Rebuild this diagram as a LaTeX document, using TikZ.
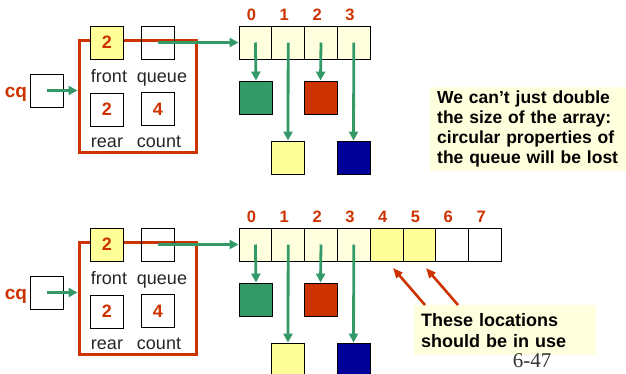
\documentclass[tikz,border=0pt]{standalone}
\usepackage{fontspec}
\setmainfont{Liberation Sans}
\newfontfamily\pageserif{Liberation Serif}
\usetikzlibrary{arrows.meta}
\definecolor{pgreen}{HTML}{339966}
\definecolor{pred}{HTML}{CC3300}
\definecolor{pyellow}{HTML}{FFFF99}
\definecolor{pblue}{HTML}{000099}
\definecolor{plight}{HTML}{FFFFDD}
\begin{document}
\begin{tikzpicture}[x=1pt,y=-1pt,
  box/.style={draw=black, line width=0.9pt, minimum width=33pt, minimum height=33pt, inner sep=0pt,
    font=\fontsize{18}{20}\selectfont\bfseries, text=pred},
  cellbox/.style={draw=black, line width=0.9pt, minimum width=32.8pt, minimum height=33pt, inner sep=0pt, fill=plight},
  sq/.style={draw=black, line width=0.9pt, minimum width=33pt, minimum height=33pt, inner sep=0pt},
  lbl/.style={font=\fontsize{18}{20}\selectfont, text=black!85, inner sep=0pt, anchor=base},
  idx/.style={font=\fontsize{16.5}{18}\selectfont\bfseries, text=pred, inner sep=0pt},
  redframe/.style={draw=pred, line width=3pt, minimum width=117pt, minimum height=112pt, inner sep=0pt},
  garrow/.style={draw=pgreen, line width=2.8pt, -{Triangle[length=9pt,width=9pt]}},
  rarrow/.style={draw=pred, line width=2.6pt, -{Triangle[length=10pt,width=8pt]}},
  note/.style={fill=plight, font=\fontsize{17.5}{20}\selectfont\bfseries, align=left, inner sep=0pt, anchor=north west}
]
\useasboundingbox (0,0) rectangle (626,373);
\fill[white] (0,0) rectangle (626,373);

\foreach \s/\dy in {a/0,b/202}{
  \node[idx, font=\fontsize{19}{20}\selectfont\bfseries, anchor=base] (cq\s) at (16,{97+\dy}) {cq};
  \node[box] (cqb\s) at (46.5,{90.5+\dy}) {};
  \node[redframe] (st\s) at (137.5,{96+\dy}) {};
  \node[box, fill=pyellow] (fr\s) at (107,{42.5+\dy}) {2};
  \node[box] (qu\s) at (158,{42.5+\dy}) {};
  \node[box] (re\s) at (107,{109.5+\dy}) {2};
  \node[box] (co\s) at (158,{109+\dy}) {4};
  \node[lbl] (lf\s) at (109,{82+\dy}) {front};
  \node[lbl] (lq\s) at (162,{82+\dy}) {queue};
  \node[lbl] (lr\s) at (107,{147+\dy}) {rear};
  \node[lbl] (lc\s) at (159,{147+\dy}) {count};
  \foreach \i in {0,...,3}{
    \node[cellbox] (c\s\i) at ({255.4+32.8*\i},{42.5+\dy}) {};
    \node[idx] (i\s\i) at ({251.5+32.8*\i},{15+\dy}) {\i};
  }
  \node[sq, fill=pgreen] (sg\s) at (256,{97.5+\dy}) {};
  \node[sq, fill=pred] (sr\s) at (320.5,{97.5+\dy}) {};
  \node[sq, fill=pyellow] (sy\s) at (288,{157.5+\dy}) {};
  \node[sq, fill=pblue] (sb\s) at (353.5,{157.5+\dy}) {};
  \draw[garrow] (cqb\s.center) -- (cqb\s.center -| st\s.west);
  \draw[garrow] (qu\s.center) -- (c\s0.west);
  \draw[garrow] (c\s0.center) -- (sg\s.north);
  \draw[garrow] (c\s1.center) -- (sy\s.north);
  \draw[garrow] (c\s2.center) -- (sr\s.north);
  \draw[garrow] (c\s3.center) -- (sb\s.north);
}

\foreach \i/\f in {4/pyellow,5/pyellow,6/white,7/white}{
  \node[cellbox, fill=\f] (cb\i) at ({255.4+32.8*\i},244.5) {};
  \node[idx] (ib\i) at ({251.5+32.8*\i},217) {\i};
}

\node[note, minimum width=194pt, minimum height=84pt, text width=187pt, inner xsep=7pt] (ta) at (430,87)
  {We can’t just double\\the size of the array:\\circular properties of\\the queue will be lost};

\node[note, minimum width=175pt, minimum height=50pt, text width=168pt, inner xsep=7pt,
  font=\fontsize{18}{21}\selectfont\bfseries] (tb) at (414,305)
  {These locations\\should be in use};

\coordinate (r1) at (425,305);
\coordinate (r2) at (458,305);
\coordinate (h1) at (393,268);
\coordinate (h2) at (426,268);
\draw[rarrow] (r1) -- (h1);
\draw[rarrow] (r2) -- (h2);

\node[font=\pageserif\fontsize{21}{24}\selectfont, text=black!80, inner sep=0pt] (pg) at (532,361) {6-47};
\end{tikzpicture}
\end{document}
